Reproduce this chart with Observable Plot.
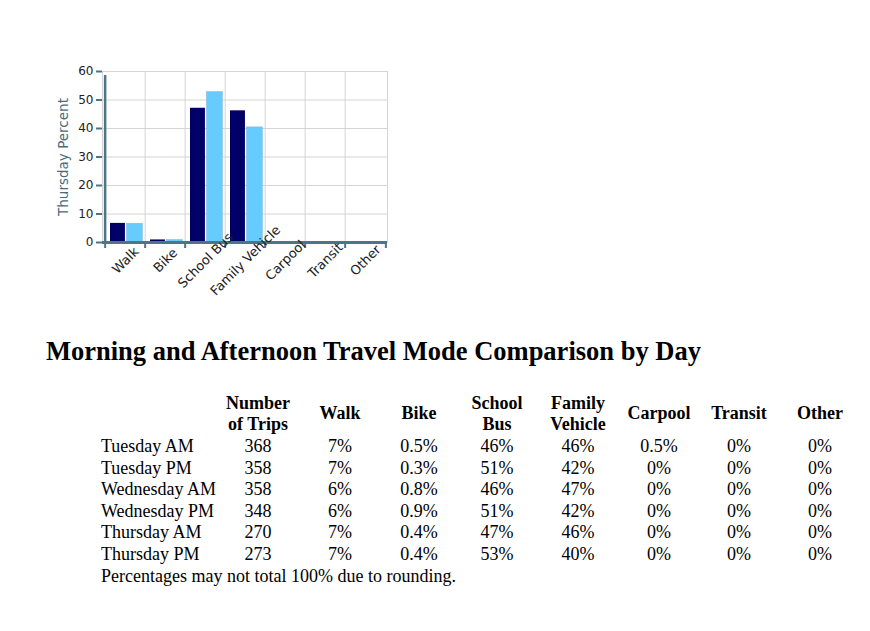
<!DOCTYPE html>
<html><head><meta charset="utf-8">
<script src="https://cdn.jsdelivr.net/npm/d3@7"></script>
<script src="https://cdn.jsdelivr.net/npm/@observablehq/plot@0.6"></script>
<style>
body{margin:0;background:#fff;width:870px;height:631px;position:relative;overflow:hidden}
#chart{position:absolute;left:0;top:0}
.t{position:absolute;font-family:"Liberation Serif","Times New Roman",serif;font-size:18px;line-height:21.5px;color:#000;white-space:nowrap}
.c{transform:translateX(-50%);text-align:center}
.b{font-weight:bold}
.title{position:absolute;left:46px;top:334px;font-family:"Liberation Serif","Times New Roman",serif;font-weight:bold;font-size:26.5px;line-height:34px;white-space:nowrap;color:#000}
</style></head><body>
<div id="chart"></div>
<div id="table"></div>
<script>
// ---- chart data ----
const modes = ["Walk","Bike","School Bus","Family Vehicle","Carpool","Transit","Other"];
const thursdayAM = [6.7, 0.9, 47.1, 46.2, 0, 0, 0];
const thursdayPM = [6.6, 0.9, 52.8, 40.4, 0, 0, 0];
const yTicks = [0,10,20,30,40,50,60];
const yLabel = "Thursday Percent";

// ---- table data ----
const tableTitle = "Morning and Afternoon Travel Mode Comparison by Day";
const headers = [["Number","of Trips"],["Walk"],["Bike"],["School","Bus"],["Family","Vehicle"],["Carpool"],["Transit"],["Other"]];
const rowLabels = ["Tuesday AM","Tuesday PM","Wednesday AM","Wednesday PM","Thursday AM","Thursday PM"];
const trips = ["368","358","358","348","270","273"];
const walk = ["7%","7%","6%","6%","7%","7%"];
const bike = ["0.5%","0.3%","0.8%","0.9%","0.4%","0.4%"];
const schoolBus = ["46%","51%","46%","51%","47%","53%"];
const familyVehicle = ["46%","42%","47%","42%","46%","40%"];
const carpool = ["0.5%","0%","0%","0%","0%","0%"];
const transit = ["0%","0%","0%","0%","0%","0%"];
const other = ["0%","0%","0%","0%","0%","0%"];
const footnote = "Percentages may not total 100% due to rounding.";

// ---- chart ----
const W = 870, H = 310, mL = 102, mR = 483, mT = 71, mB = 68;
const bw = (W - mL - mR) / modes.length;
const am = modes.map((m, i) => ({mode: m, value: thursdayAM[i]}));
const pm = modes.map((m, i) => ({mode: m, value: thursdayPM[i]}));
const axisColor = "#4d7585";
const grid = "#d4d4d4";

const plot = Plot.plot({
  width: W, height: H, marginLeft: mL, marginRight: mR, marginTop: mT, marginBottom: mB,
  style: {fontFamily: "'DejaVu Sans', sans-serif", fontSize: "12px", background: "#fff", color: "#222"},
  x: {domain: modes, padding: 0, axis: null},
  y: {domain: [0, 60], axis: null},
  marks: [
    Plot.gridY(yTicks.slice(1), {stroke: grid, strokeOpacity: 1}),
    Plot.ruleX(modes.slice(1), {dx: -bw / 2, stroke: grid}),
    Plot.frame({stroke: grid}),
    Plot.barY(am, {x: "mode", y: "value", fill: "#000066", insetLeft: 5, insetRight: bw / 2 - 0.3}),
    Plot.barY(pm, {x: "mode", y: "value", fill: "#66ccff", stroke: "#8fb8cc", strokeWidth: 0.5, insetLeft: bw / 2 + 1, insetRight: 2.5}),
    Plot.ruleY([0], {stroke: axisColor, strokeWidth: 3}),
    Plot.ruleX(modes, {dx: -bw / 2, y1: d => 0, y2: d => 0, insetBottom: -6, stroke: axisColor, strokeWidth: 2}),
    Plot.ruleX([modes[modes.length - 1]], {dx: bw / 2, y1: d => 0, y2: d => 0, insetBottom: -6, stroke: axisColor, strokeWidth: 2}),
    Plot.ruleX([modes[0]], {dx: -bw / 2, y1: d => 0, y2: d => 60, insetBottom: -4, stroke: axisColor, strokeWidth: 2.5}),
    Plot.axisY(yTicks, {label: null, tickSize: 6, tickPadding: 3, stroke: axisColor, strokeWidth: 2, fill: "#222", fontSize: 12}),
    Plot.text(modes, {x: d => d, frameAnchor: "bottom", dy: 18, rotate: -45, textAnchor: "middle", lineAnchor: "middle", fill: "#222", fontSize: 13}),
    Plot.text([yLabel], {frameAnchor: "left", dx: -39, rotate: -90, textAnchor: "middle", lineAnchor: "middle", fill: "#4a6b7a", fontSize: 13.5})
  ]
});
document.getElementById("chart").appendChild(plot);

// ---- table ----
const tbl = document.getElementById("table");
function put(text, x, yc, cls) {
  const d = document.createElement("div");
  d.className = "t " + cls;
  d.textContent = text;
  d.style.left = x + "px";
  d.style.top = (yc - 10.75) + "px";
  tbl.appendChild(d);
}
const title = document.createElement("div");
title.className = "title";
title.textContent = tableTitle;
tbl.appendChild(title);

const colX = [258, 340, 419, 497, 578, 659, 739, 820];
headers.forEach((h, j) => {
  if (h.length === 2) { put(h[0], colX[j], 403.5, "c b"); put(h[1], colX[j], 425, "c b"); }
  else put(h[0], colX[j], 413.5, "c b");
});
const rowY = [447, 468.5, 490, 511.5, 533, 555];
const cols = [trips, walk, bike, schoolBus, familyVehicle, carpool, transit, other];
rowLabels.forEach((r, i) => {
  put(r, 101, rowY[i], "");
  cols.forEach((col, j) => put(col[i], colX[j], rowY[i], "c"));
});
put(footnote, 101, 577, "");
</script>
</body></html>
